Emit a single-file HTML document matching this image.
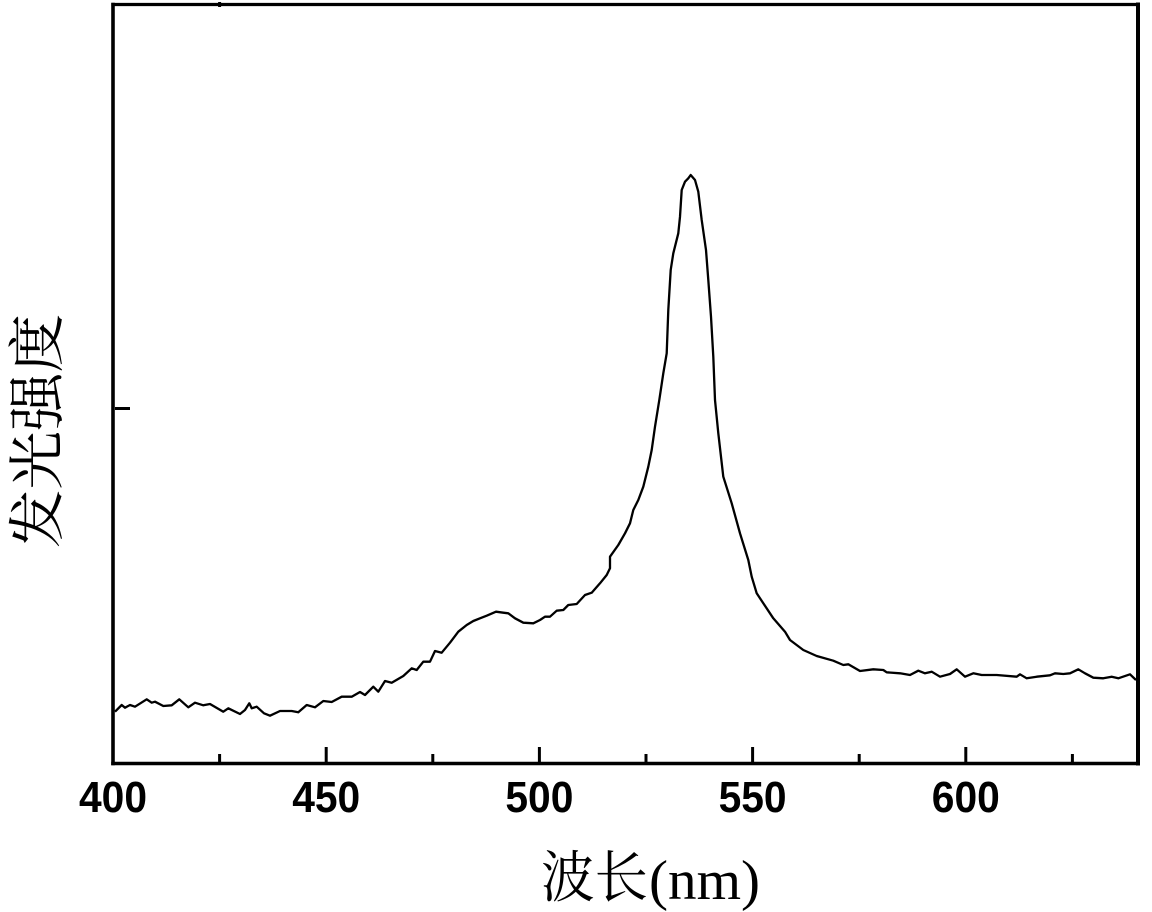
<!DOCTYPE html>
<html>
<head>
<meta charset="utf-8">
<style>
html,body{margin:0;padding:0;background:#fff;}
svg{display:block;}
</style>
</head>
<body>
<svg width="1152" height="912" viewBox="0 0 1152 912" xmlns="http://www.w3.org/2000/svg">
<rect width="1152" height="912" fill="#fff"/>
<!-- frame -->
<g stroke="#000" fill="none" stroke-linecap="square">
<line x1="113" y1="4.5" x2="1138" y2="4.5" stroke-width="3.2"/>
<line x1="113" y1="763.5" x2="1138" y2="763.5" stroke-width="3.6"/>
<line x1="113" y1="4.5" x2="113" y2="763.5" stroke-width="3.6"/>
<line x1="1138" y1="4.5" x2="1138" y2="763.5" stroke-width="4"/>
</g>
<!-- ticks -->
<g stroke="#000" stroke-width="3" fill="none">
<line x1="326.2" y1="763" x2="326.2" y2="747"/>
<line x1="539.4" y1="763" x2="539.4" y2="747"/>
<line x1="752.6" y1="763" x2="752.6" y2="747"/>
<line x1="965.8" y1="763" x2="965.8" y2="747"/>
<line x1="219.6" y1="763" x2="219.6" y2="754"/>
<line x1="432.8" y1="763" x2="432.8" y2="754"/>
<line x1="646" y1="763" x2="646" y2="754"/>
<line x1="859.2" y1="763" x2="859.2" y2="754"/>
<line x1="1072.4" y1="763" x2="1072.4" y2="754"/>
<line x1="219.6" y1="2" x2="219.6" y2="7"/>
<line x1="115" y1="408.5" x2="130" y2="408.5"/>
</g>
<!-- tick labels -->
<g font-family="'Liberation Sans', Arial, sans-serif" font-weight="bold" font-size="44" fill="#000" text-anchor="middle">
<text x="113" y="812" textLength="68" lengthAdjust="spacingAndGlyphs">400</text>
<text x="326.2" y="812" textLength="68" lengthAdjust="spacingAndGlyphs">450</text>
<text x="539.4" y="812" textLength="68" lengthAdjust="spacingAndGlyphs">500</text>
<text x="752.6" y="812" textLength="68" lengthAdjust="spacingAndGlyphs">550</text>
<text x="965.8" y="812" textLength="68" lengthAdjust="spacingAndGlyphs">600</text>
</g>
<!-- axis labels -->
<text x="541" y="897" font-family="'Liberation Serif', 'Noto Serif CJK SC', serif" font-size="56" textLength="107" lengthAdjust="spacingAndGlyphs" fill="#000">波长</text>
<text x="649" y="899" font-family="'Liberation Serif', serif" font-size="56" textLength="111" lengthAdjust="spacingAndGlyphs" fill="#000">(nm)</text>
<text transform="translate(57,431) rotate(-90)" text-anchor="middle" font-family="'Liberation Serif', 'Noto Serif CJK SC', serif" font-size="57" textLength="234" lengthAdjust="spacingAndGlyphs" fill="#000">发光强度</text>
<!-- spectrum -->
<polyline fill="none" stroke="#000" stroke-width="2.3" stroke-linejoin="round" points="
115,711.7 121.7,705 125,707.7 130,705 135,706.7 146.7,699.3 151.7,702.7 155,701.7 163.3,706 171.7,705.3 179.3,699.3 188.3,707.3 195,702.7 203.3,705.3 210,704 223.3,711.7 228.3,708.3 240,714 245,710 249.3,703.3 251.7,708.3 256.7,706.7 264,713.3 270,715.7 280,711 291.7,711 298.3,712.3 306.7,705 315,707.3 323.3,701 331.7,702 341.7,696.7 351.7,696.7 360,692 365,695 373.3,686.7 378.3,691.7 385,681 391.7,682.7 403.3,676 411.7,668.3 416.7,670 423.3,661.7 430,661.7 435,651 441.7,652.7 450,642.7 458.3,631.7 466.7,625 473.3,621 480,618.3 486.7,615.7 496,611.7 503.3,612.7 508.3,613.3 515,618.3 523.3,622.7 533.3,623.3 540,620 545,616.7 550,616.7 556.7,610.7 563.3,610 568.3,605 576.7,604 585,595 591.7,592.7 600,583.3 606.7,575 610,568.3 610,556.7 618.3,545 625,533.3 630,523.3 633.3,510 638.3,500 643.3,486.7 648.3,466.7 651.7,450 655,426.7 659.3,400 663.3,373.3 666.7,353.3 668.3,310 670.7,270 673.3,253.3 678.3,233.3 680,216.7 681.7,190 685,181.7 688.3,178.3 690.7,175 695,180 698.3,191.7 701.7,220 706,250 708.3,280 711,316.7 713.3,356.7 715,400 718.3,433.3 723.3,476.7 731.7,503.3 740,533.3 748.3,560 751.7,576.7 756.7,593.3 763.3,603.3 773.3,618.3 785,631.7 790,640 803.3,650 816.7,656 833.3,660.7 843.3,665 848.3,664.3 860,671 873.3,669.3 883.3,670 886.7,672.3 900,673.3 910,675 918.3,670.7 925,673.3 931.7,671.7 940,676.7 950,674 956.7,669.3 965,676.7 973.3,673.3 981.7,675 996.7,675 1016.7,676.7 1020,674.3 1026.7,678.3 1036.7,676.7 1050,675.3 1055,673.3 1063.3,674 1070,673.3 1078.3,669.3 1085,673.3 1093.3,677.7 1103.3,678.3 1111.7,676.7 1118.3,678.3 1130,674.3 1136,680"/>
</svg>
</body>
</html>
